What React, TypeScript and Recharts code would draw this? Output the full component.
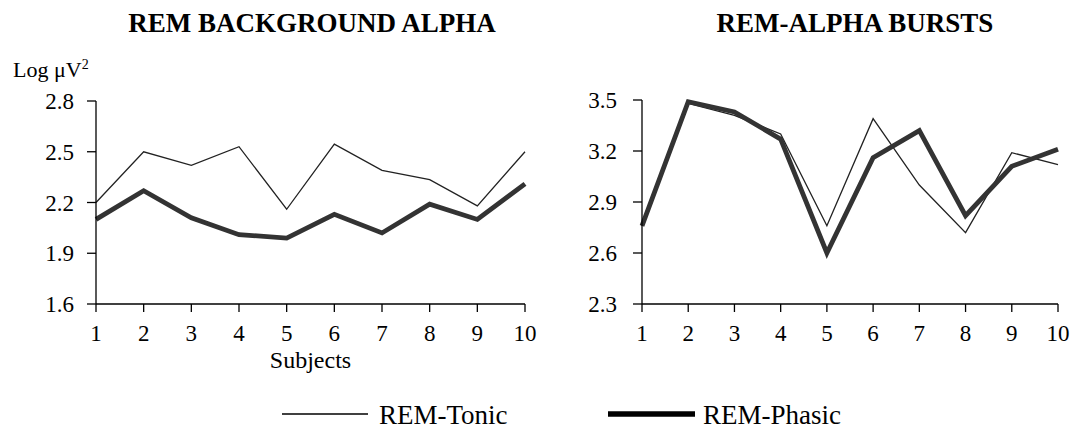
import React from 'react';
import { LineChart, Line, XAxis, YAxis } from 'recharts';

const subjects = [1, 2, 3, 4, 5, 6, 7, 8, 9, 10];
const bgTonic = [2.2, 2.5, 2.42, 2.53, 2.16, 2.545, 2.39, 2.335, 2.18, 2.5];
const bgPhasic = [2.1, 2.27, 2.11, 2.01, 1.99, 2.13, 2.02, 2.19, 2.1, 2.31];
const burstTonic = [2.76, 3.48, 3.41, 3.3, 2.76, 3.39, 3.0, 2.72, 3.19, 3.12];
const burstPhasic = [2.76, 3.49, 3.43, 3.27, 2.6, 3.16, 3.32, 2.82, 3.11, 3.21];
const bgTicks = [1.6, 1.9, 2.2, 2.5, 2.8];
const burstTicks = [2.3, 2.6, 2.9, 3.2, 3.5];
const titles = ['REM BACKGROUND ALPHA', 'REM-ALPHA BURSTS'];
const seriesNames = ['REM-Tonic', 'REM-Phasic'];

const bgData = subjects.map((s, i) => ({ x: s, tonic: bgTonic[i], phasic: bgPhasic[i] }));
const burstData = subjects.map((s, i) => ({ x: s, tonic: burstTonic[i], phasic: burstPhasic[i] }));

const FONT = '"Liberation Serif", "Times New Roman", serif';
const tickStyle = { fontFamily: FONT, fontSize: 23, fill: '#000' };
const axisLine = { stroke: '#000', strokeWidth: 1.3 };
const THIN = 1.3;
const THICK = 4.8;

export default function App() {
  return (
    <div style={{ position: 'absolute', left: 0, top: 0, width: 1075, height: 430, background: '#fff', fontFamily: FONT }}>
      <div style={{ position: 'absolute', left: 0, top: 0 }}>
        <LineChart width={540} height={380} data={bgData} margin={{ top: 101, right: 15, bottom: 46, left: 0 }}>
          <XAxis
            dataKey="x"
            type="number"
            domain={[1, 10]}
            ticks={subjects}
            interval={0}
            height={30}
            tick={tickStyle}
            tickSize={8}
            tickMargin={13}
            axisLine={axisLine}
            tickLine={axisLine}
            label={{ value: 'Subjects', position: 'bottom', offset: 17, style: { fontFamily: FONT, fontSize: 24, fill: '#000' } }}
          />
          <YAxis
            type="number"
            domain={[1.6, 2.8]}
            ticks={bgTicks}
            interval={0}
            width={96}
            tick={tickStyle}
            tickSize={9}
            tickMargin={13}
            axisLine={axisLine}
            tickLine={axisLine}
            tickFormatter={(v: number) => v.toFixed(1)}
          />
          <Line dataKey="tonic" type="linear" stroke="#222" strokeWidth={THIN} dot={false} isAnimationActive={false} />
          <Line dataKey="phasic" type="linear" stroke="#333" strokeWidth={THICK} dot={false} isAnimationActive={false} />
        </LineChart>
      </div>

      <div style={{ position: 'absolute', left: 540, top: 0 }}>
        <LineChart width={535} height={380} data={burstData} margin={{ top: 100, right: 17, bottom: 46, left: 0 }}>
          <XAxis
            dataKey="x"
            type="number"
            domain={[1, 10]}
            ticks={subjects}
            interval={0}
            height={30}
            tick={tickStyle}
            tickSize={8}
            tickMargin={13}
            axisLine={axisLine}
            tickLine={axisLine}
          />
          <YAxis
            type="number"
            domain={[2.3, 3.5]}
            ticks={burstTicks}
            interval={0}
            width={102}
            tick={tickStyle}
            tickSize={9}
            tickMargin={16}
            axisLine={axisLine}
            tickLine={axisLine}
            tickFormatter={(v: number) => v.toFixed(1)}
          />
          <Line dataKey="tonic" type="linear" stroke="#222" strokeWidth={THIN} dot={false} isAnimationActive={false} />
          <Line dataKey="phasic" type="linear" stroke="#333" strokeWidth={THICK} dot={false} isAnimationActive={false} />
        </LineChart>
      </div>

      <svg width={1075} height={430} style={{ position: 'absolute', left: 0, top: 0, pointerEvents: 'none' }}>
        <text x={312} y={32} textAnchor="middle" fontFamily={FONT} fontWeight="bold" fontSize={27} fill="#000">{titles[0]}</text>
        <text x={855} y={32} textAnchor="middle" fontFamily={FONT} fontWeight="bold" fontSize={27} fill="#000">{titles[1]}</text>
        <text x={13} y={77} fontFamily={FONT} fontSize={22} fill="#000">
          Log μV<tspan fontSize={14} dy={-8}>2</tspan>
        </text>
        <line x1={282} y1={414} x2={368} y2={414} stroke="#000" strokeWidth={THIN} />
        <text x={379} y={424} fontFamily={FONT} fontSize={27} fill="#000">{seriesNames[0]}</text>
        <line x1={608} y1={414} x2={695} y2={414} stroke="#000" strokeWidth={5.5} />
        <text x={703} y={424} fontFamily={FONT} fontSize={27} fill="#000">{seriesNames[1]}</text>
      </svg>
    </div>
  );
}
